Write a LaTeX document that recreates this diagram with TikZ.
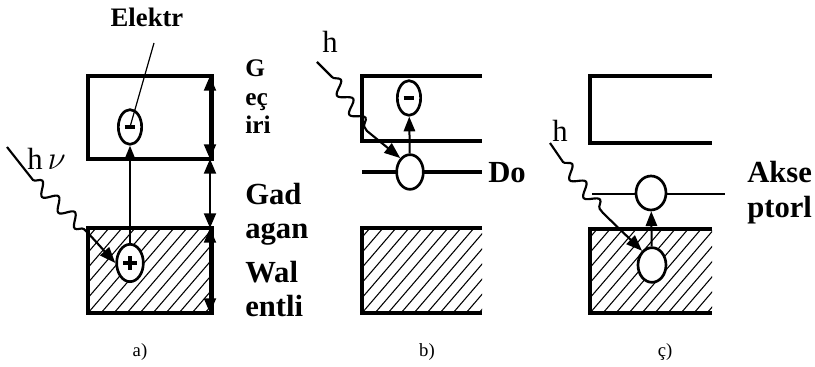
\documentclass[tikz,border=0pt]{standalone}
\usepackage{fontspec}
\setmainfont{Liberation Serif}
\usetikzlibrary{arrows.meta, shapes.geometric, decorations.pathmorphing}

\tikzset{
  band/.style={line width=2.6pt},
  level/.style={line width=1.4pt},
  state/.style={ellipse, draw, line width=2pt, fill=white, inner sep=0pt},
  sign/.style={line width=2.8pt},
  tip/.style={line width=1.5pt, -{Triangle[length=11pt,width=8.5pt]}},
  gap/.style={line width=1.5pt, {Triangle[length=11pt,width=9pt]}-{Triangle[length=11pt,width=9pt]}},
  photon/.style={line width=1.6pt, -{Triangle[length=12pt,width=9pt]}},
  wave/.style={decoration={snake, amplitude=4.5pt, segment length=17pt}},
  hatched/.style={path picture={
    \foreach \k in {-7,...,11}
      \draw[line width=0.8pt] ([xshift=\k*9.75pt]path picture bounding box.south west) -- ++(55pt,64pt);
  }},
  small/.style={font=\fontsize{19}{22}\selectfont\bfseries, inner sep=0pt},
  big/.style={font=\fontsize{23}{26}\selectfont\bfseries, inner sep=0pt},
  hlabel/.style={font=\fontsize{23}{26}\selectfont, inner sep=0pt},
  caption/.style={font=\fontsize{14}{16}\selectfont, inner sep=0pt}
}

\begin{document}
\begin{tikzpicture}[x=0.75pt,y=-0.75pt]
  \path[use as bounding box] (0,0) rectangle (815,367);

  % a) pure semiconductor
  \draw[band] (88,76) rectangle (212,159);
  \draw[band, hatched] (88,228) rectangle (212,313);
  \node[state, minimum width=17.5pt, minimum height=26pt] (minusA) at (130,127) {};
  \node[state, minimum width=20pt, minimum height=28pt] (plusA) at (130,263) {};
  \node[small, font=\fontsize{20}{22}\selectfont\bfseries, anchor=base] (elektr) at (147,27) {Elektr};
  \coordinate (elektrtail) at (154,43);
  \draw[line width=0.9pt] (elektrtail) -- (minusA.center);
  \draw[sign] ([xshift=-4pt]minusA.center) -- ([xshift=4pt]minusA.center);
  \draw[sign] ([xshift=-5pt]plusA.center) -- ([xshift=5pt]plusA.center)
              ([yshift=-5pt]plusA.center) -- ([yshift=5pt]plusA.center);
  \draw[tip] (plusA) -- (minusA);

  \coordinate (cbtop) at (210,76);
  \coordinate (cbbot) at (210,159);
  \coordinate (vbtop) at (210,228);
  \coordinate (vbbot) at (210,313);
  \draw[gap] (cbtop) -- (cbbot);
  \draw[gap] (cbbot) -- (vbtop);
  \draw[gap] (vbtop) -- (vbbot);

  \coordinate (pa0) at (7,147);
  \coordinate (pa1) at (33,180);
  \coordinate (pa2) at (88,233);
  \draw[photon] (pa0) -- (pa1) decorate[wave] {-- (pa2)} -- (plusA.west);
  \node[hlabel, anchor=base west] (hnuA) at (27,170) {h\,$\nu$};

  \node[small, anchor=base west] (condA1) at (245,77) {G};
  \node[small, anchor=base west] (condA2) at (245,106) {eç};
  \node[small, anchor=base west] (condA3) at (245,134) {iri};
  \node[big, anchor=base west] (gapA1) at (245,205) {Gad};
  \node[big, anchor=base west] (gapA2) at (245,239) {agan};
  \node[big, anchor=base west] (valA1) at (245,283) {Wal};
  \node[big, anchor=base west] (valA2) at (245,317) {entli};

  % b) donor level
  \draw[band] (482,76) -- (362,76) -- (362,141) -- (482,141);
  \path[hatched] (362,228) rectangle (482,313);
  \draw[band] (482,228) -- (362,228) -- (362,313) -- (482,313);
  \draw[band] (362,172) -- (482,172);
  \node[state, minimum width=20pt, minimum height=26pt] (donorB) at (410,172) {};
  \node[state, minimum width=17.5pt, minimum height=26pt] (minusB) at (409,98) {};
  \draw[sign] ([xshift=-4pt]minusB.center) -- ([xshift=4pt]minusB.center);
  \draw[tip] (donorB) -- (minusB);
  \node[big, anchor=base west] (donor) at (488,183) {Do};

  \coordinate (pb0) at (317,62);
  \coordinate (pb1) at (332,77);
  \coordinate (pb2) at (367,131);
  \draw[photon] (pb0) -- (pb1) decorate[wave] {-- (pb2)} -- (donorB.125);
  \node[hlabel, anchor=base] (hB) at (330,53) {h};

  % c) acceptor level
  \draw[band] (712,76) -- (590,76) -- (590,143) -- (712,143);
  \path[hatched] (590,229) rectangle (712,313);
  \draw[band] (712,229) -- (590,229) -- (590,313) -- (712,313);
  \draw[level] (592,194) -- (725,194);
  \node[state, minimum width=22.5pt, minimum height=25.5pt] (acceptorC) at (651,193) {};
  \node[state, minimum width=21pt, minimum height=26pt] (holeC) at (652,265) {};
  \draw[tip] (holeC) -- (acceptorC);
  \node[big, anchor=base west] (accept1) at (747,183) {Akse};
  \node[big, anchor=base west] (accept2) at (747,218) {ptorl};

  \coordinate (pc0) at (550,143);
  \coordinate (pc1) at (563,162);
  \coordinate (pc2) at (603,213);
  \draw[photon] (pc0) -- (pc1) decorate[wave] {-- (pc2)} -- (holeC.125);
  \node[hlabel, anchor=base] (hC) at (560,142) {h};

  % captions
  \node[caption] (capA) at (140,352) {a)};
  \node[caption] (capB) at (427,352) {b)};
  \node[caption] (capC) at (665,352) {ç)};
\end{tikzpicture}
\end{document}
